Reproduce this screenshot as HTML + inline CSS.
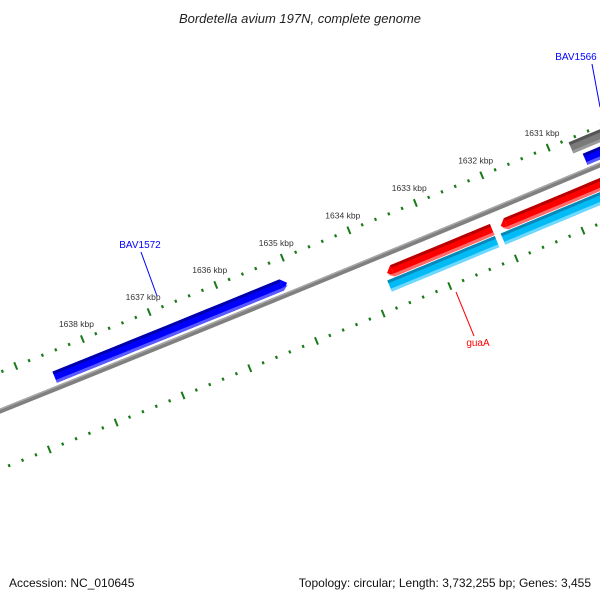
<!DOCTYPE html>
<html><head><meta charset="utf-8"><style>
html,body{margin:0;padding:0;background:#fff;}
svg{display:block;font-family:"Liberation Sans",sans-serif;}
</style></head><body>
<svg id="map" width="600" height="600" viewBox="0 0 600 600">
<text x="300" y="23" text-anchor="middle" font-size="13" font-style="italic" fill="#222">Bordetella avium 197N, complete genome</text>
<g id="ticks"></g>
<g id="backbone"></g>
<g id="feats"></g>
<g id="labels"></g>
<text x="9" y="587" font-size="12" fill="#111">Accession: NC_010645</text>
<text x="591" y="587" font-size="12" text-anchor="end" fill="#111">Topology: circular; Length: 3,732,255 bp; Genes: 3,455</text>
</svg>
<script>
var genomeLength = 3732255;
var featureNames = ["BAV1572","red-1","red-2","cyan-1","cyan-2","gray-1","BAV1566"];
var featureStarts = [1635072,1632156,1630000,1632158,1630000,1629000,1629000];
var featureEnds = [1638556,1633736,1632028,1633772,1632069,1630710,1630590];
var featureTracks = [-11,18,18,31,31,-27,-11];
var featureArrows = ["start","end","end","none","none","none","none"];
var featureColors = [["#0000ff","#0000aa","#5a5aff"],["#ff0000","#b80000","#ff6a6a"],["#ff0000","#b80000","#ff6a6a"],["#00bbf5","#0a88b8","#6fd8ff"],["#00bbf5","#0a88b8","#6fd8ff"],["#7a7a7a","#555","#9a9a9a"],["#0000ff","#0000aa","#5a5aff"]];
var tickMin = 1629000, tickMax = 1641000;
var labelMin = 1631000, labelMax = 1638000;

var NS="http://www.w3.org/2000/svg";
var R=42770, refBp=1635000, refX=296, refY=291;
var th0=2*Math.PI*refBp/genomeLength;
var Cx=refX-R*Math.sin(th0), Cy=refY+R*Math.cos(th0);
function P(bp,off){var t=2*Math.PI*bp/genomeLength, r=R+off;return [Cx+r*Math.sin(t),Cy-r*Math.cos(t)];}
function mk(tag,attrs,parent){var e=document.createElementNS(NS,tag);for(var k in attrs)e.setAttribute(k,attrs[k]);parent.appendChild(e);return e;}
function band(a,b,o1,o2){var pts=[],n=12,i;for(i=0;i<=n;i++)pts.push(P(a+(b-a)*i/n,o1));for(i=n;i>=0;i--)pts.push(P(a+(b-a)*i/n,o2));return pts.map(function(p){return p[0].toFixed(2)+","+p[1].toFixed(2);}).join(" ");}

var tg=document.getElementById('ticks');
[[-36,true],[54,false]].forEach(function(ring){
  for(var bp=tickMin;bp<=tickMax;bp+=200){
    var major=(bp%1000===0);var len=major?4:1.5;
    var a=P(bp,ring[0]-len),b=P(bp,ring[0]+len);
    var l=mk('line',{x1:a[0],y1:a[1],x2:b[0],y2:b[1],stroke:'#187a18','stroke-width':major?2:2.2},tg);
    
    
    if(major&&ring[1]&&bp>=labelMin&&bp<=labelMax){var q=P(bp,ring[0]-16);
      var t=mk('text',{x:q[0],y:q[1]+3,'text-anchor':'middle','font-size':'8.5',fill:'#333'},tg);
      t.textContent=(bp/1000)+' kbp';
      
      }
  }
});
var bb=document.getElementById('backbone');
var b1=mk('polygon',{points:band(1625000,1645000,-2.5,2.5),fill:'#808080'},bb);


var b2=mk('polygon',{points:band(1625000,1645000,-2.5,-1),fill:'#a8a8a8'},bb);


var fg=document.getElementById('feats');
for(var i=0;i<featureNames.length;i++){
  var s=featureStarts[i],e=featureEnds[i],o=featureTracks[i],c=featureColors[i],h=6,head=80,arr=featureArrows[i];
  var g=mk('g',{},fg);
  
  
  var bs=s,be=e;if(arr==='start')bs=s+head;if(arr==='end')be=e-head;
  mk('polygon',{points:band(bs,be,o-h,o+h),fill:c[0]},g);
  mk('polygon',{points:band(bs,be,o-h,o-h+3),fill:c[1]},g);
  mk('polygon',{points:band(bs,be,o+h-3,o+h),fill:c[2]},g);
  if(arr!=='none'){var base=arr==='start'?bs:be,tip=arr==='start'?s:e;
    var p1=P(base,o-h),p2=P(tip,o),p3=P(base,o+h),pm=P(tip,o+2);
    mk('polygon',{points:[p1,p2,p3].map(function(p){return p.join(',');}).join(' '),fill:c[0]},g);
    mk('polygon',{points:[P(base,o+h-3),pm,p3].map(function(p){return p.join(',');}).join(' '),fill:c[2]},g);}
}
var lg=document.getElementById('labels');
var labelTexts=["BAV1572","BAV1566","guaA"];
var labelColors=["#0000ff","#0000ff","#ff0000"];
var lbl=[[140,248,141,252,157,296],[576,60,592,64,600,107],[478,346,474,336,456,292]];
for(var j=0;j<labelTexts.length;j++){var L=lbl[j];
  var ln=mk('line',{x1:L[2],y1:L[3],x2:L[4],y2:L[5],stroke:labelColors[j],'stroke-width':1},lg);
  
  
  var tx=mk('text',{x:L[0],y:L[1],'text-anchor':'middle','font-size':'10',fill:labelColors[j]},lg);
  tx.textContent=labelTexts[j];
  
  }
</script>
</body></html>
